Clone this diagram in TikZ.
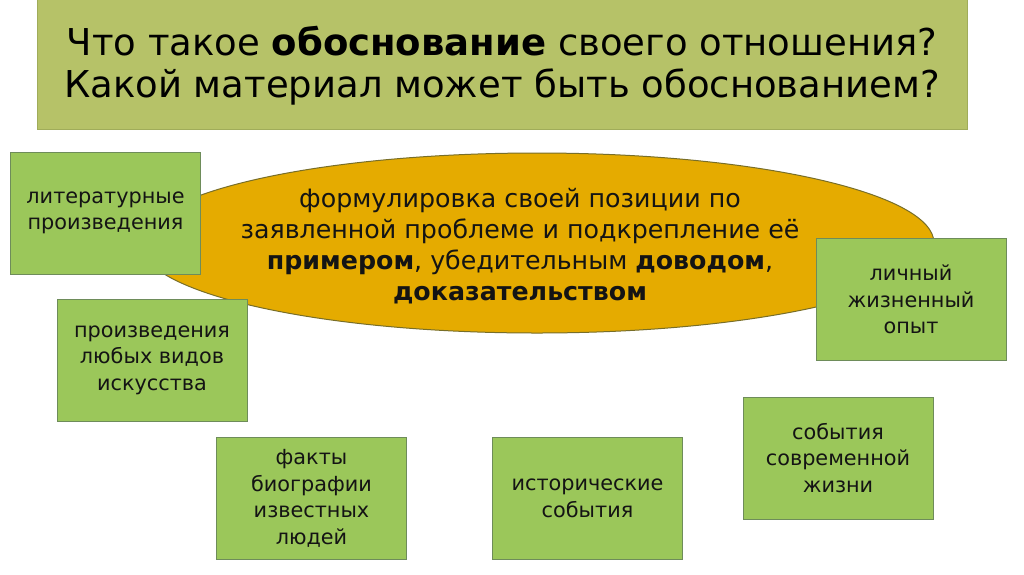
\documentclass[tikz,border=0pt]{standalone}
\usepackage{fontspec}
\setmainfont{DejaVu Sans}
\usetikzlibrary{shapes.geometric}
\definecolor{titlefill}{RGB}{182,194,104}
\definecolor{titleline}{RGB}{160,172,90}
\definecolor{ellfill}{RGB}{229,171,0}
\definecolor{ellline}{RGB}{120,110,40}
\definecolor{boxfill}{RGB}{155,199,90}
\definecolor{boxline}{RGB}{110,140,90}
\definecolor{txt}{RGB}{20,20,20}
\tikzset{
  greenbox/.style={draw=boxline, line width=1pt, fill=boxfill, rectangle,
    minimum width=190pt, minimum height=122pt, inner sep=0pt, align=center,
    text=txt, font=\fontsize{20.8}{26.5}\selectfont},
}
\begin{document}
\begin{tikzpicture}[x=1pt,y=-1pt]
\useasboundingbox (0,0) rectangle (1024,574);
\fill[white] (0,0) rectangle (1024,574);
% title
\node (titlebox) [draw=titleline, fill=titlefill, rectangle, minimum width=930pt, minimum height=130pt, inner sep=0pt] at (502,64) {};
\node (titletext) [align=center, font=\fontsize{37}{42}\selectfont, text=black] at (502,66)
  {Что такое \textbf{обоснование} своего отношения?\\Какой материал может быть обоснованием?};
% ellipse
\node (ell) [ellipse, draw=ellline, line width=1pt, fill=ellfill, minimum width=794pt, minimum height=180pt, inner sep=0pt] at (537,243) {};
\node (elltext) [align=center, font=\fontsize{25.3}{31}\selectfont, text=txt] at (520,246)
  {формулировка своей позиции по\\заявленной проблеме и подкрепление её\\\textbf{примером}, убедительным \textbf{доводом},\\\textbf{доказательством}};
% boxes
\node (b1) [greenbox] at (105.5,213) {литературные\\произведения};
\node (b2) [greenbox] at (152,360) {произведения\\любых видов\\искусства};
\node (b3) [greenbox] at (311.5,498.5) {факты\\биографии\\известных\\людей};
\node (b4) [greenbox] at (587.5,498.5) {исторические\\события};
\node (b5) [greenbox] at (838,458) {события\\современной\\жизни};
\node (b6) [greenbox] at (911,299.5) {личный\\жизненный\\опыт};
\end{tikzpicture}
\end{document}
